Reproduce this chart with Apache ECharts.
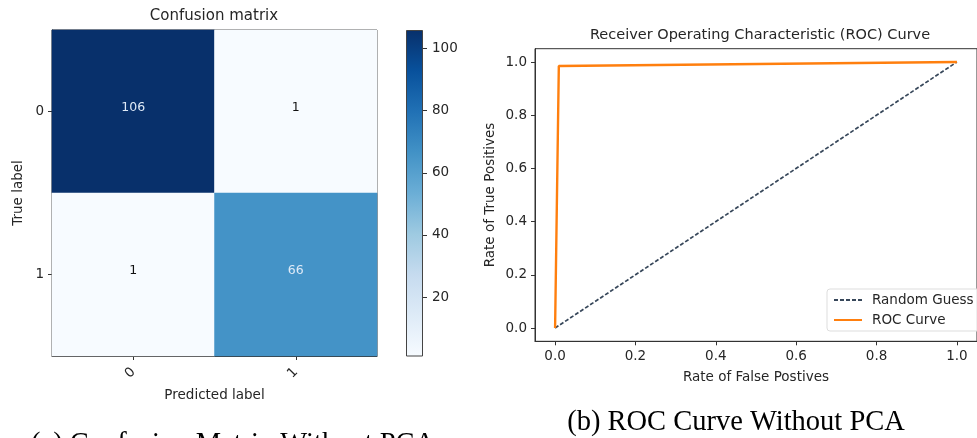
<!DOCTYPE html>
<html>
<head>
<meta charset="utf-8">
<script src="https://cdn.jsdelivr.net/npm/echarts@6/dist/echarts.min.js"></script>
<style>html,body{margin:0;padding:0;background:#fff}#c{width:977px;height:438px}</style>
</head>
<body>
<div id="c"></div>
<script>
// ---- data ----
const cmPredicted = ['0', '1'];
const cmTrue = ['0', '1'];
const cmRow0 = [106, 1];
const cmRow1 = [1, 66];
const cbRange = [1, 106];
const cbTicks = [20, 40, 60, 80, 100];
const rocFpr = [0, 0.0093, 1];
const rocTpr = [0, 0.985, 1];
const guessFpr = [0, 1];
const guessTpr = [0, 1];
const rocTicks = [0, 0.2, 0.4, 0.6, 0.8, 1.0];

const blues = ['#f7fbff','#deebf7','#c6dbef','#9ecae1','#6baed6','#4292c6','#2171b5','#08519c','#08306b'];
const FONT = 'DejaVu Sans';
const TXT = '#262626';
const FS = 13.5;
const cmRows = [cmRow0, cmRow1];
const thresh = cbRange[1] / 2;
const heatData = [];
cmRows.forEach((row, yi) => row.forEach((v, xi) => {
  heatData.push({ value: [xi, yi, v], label: { color: v > thresh ? '#dfeaf7' : '#111' } });
}));
const rocData = rocFpr.map((x, i) => [x, rocTpr[i]]);
const guessData = guessFpr.map((x, i) => [x, guessTpr[i]]);

const chart = echarts.init(document.getElementById('c'), null, { renderer: 'canvas' });
const axisLineStyle = { color: '#333', width: 1 };
chart.setOption({
  animation: false,
  textStyle: { fontFamily: FONT },
  grid: [
    { left: 52, top: 30, width: 325, height: 326, show: true, borderColor: '#333', borderWidth: 1, backgroundColor: 'transparent' },
    { left: 406, top: 30, width: 17, height: 326, show: false },
    { left: 535, top: 48.7, width: 452.6, height: 292.6, show: true, borderColor: '#333', borderWidth: 1, backgroundColor: 'transparent' }
  ],
  visualMap: {
    show: false, type: 'continuous', min: cbRange[0], max: cbRange[1], seriesIndex: 0,
    inRange: { color: blues }
  },
  xAxis: [
    { gridIndex: 0, type: 'category', data: cmPredicted, name: 'Predicted label', nameLocation: 'middle', nameGap: 32,
      nameTextStyle: { fontSize: FS, color: TXT, fontFamily: FONT },
      axisLine: { show: true, lineStyle: axisLineStyle }, axisTick: { show: true, alignWithLabel: true, length: 4, lineStyle: axisLineStyle },
      axisLabel: { rotate: 45, margin: 14, fontSize: FS, color: TXT, fontFamily: FONT }, splitLine: { show: false } },
    { gridIndex: 1, type: 'category', data: ['cb'], show: false },
    { gridIndex: 2, type: 'value', min: -0.05, max: 1.05, name: 'Rate of False Postives', nameLocation: 'middle', nameGap: 29,
      nameTextStyle: { fontSize: FS, color: TXT, fontFamily: FONT },
      axisLine: { show: true, onZero: false, lineStyle: axisLineStyle },
      axisTick: { show: true, length: 4, customValues: rocTicks, lineStyle: axisLineStyle },
      axisLabel: { customValues: rocTicks, formatter: v => v.toFixed(1), margin: 8, fontSize: FS, color: TXT, fontFamily: FONT },
      splitLine: { show: false } }
  ],
  yAxis: [
    { gridIndex: 0, type: 'category', data: cmTrue, inverse: true, name: 'True label', nameLocation: 'middle', nameGap: 27,
      nameTextStyle: { fontSize: FS, color: TXT, fontFamily: FONT },
      axisLine: { show: true, lineStyle: axisLineStyle }, axisTick: { show: true, alignWithLabel: true, length: 4, lineStyle: axisLineStyle },
      axisLabel: { margin: 8, fontSize: FS, color: TXT, fontFamily: FONT }, splitLine: { show: false } },
    { gridIndex: 1, type: 'value', min: cbRange[0], max: cbRange[1], position: 'right',
      axisLine: { show: false },
      axisTick: { show: true, length: 4, customValues: cbTicks, lineStyle: axisLineStyle },
      axisLabel: { customValues: cbTicks, margin: 9, fontSize: FS, color: TXT, fontFamily: FONT },
      splitLine: { show: false } },
    { gridIndex: 2, type: 'value', min: -0.05, max: 1.05, name: 'Rate of True Positives', nameLocation: 'middle', nameGap: 38,
      nameTextStyle: { fontSize: FS, color: TXT, fontFamily: FONT },
      axisLine: { show: true, onZero: false, lineStyle: axisLineStyle },
      axisTick: { show: true, length: 4, customValues: rocTicks, lineStyle: axisLineStyle },
      axisLabel: { customValues: rocTicks, formatter: v => v.toFixed(1), margin: 8, fontSize: FS, color: TXT, fontFamily: FONT },
      splitLine: { show: false } }
  ],
  legend: {
    left: 827, top: 289, orient: 'vertical', itemGap: 6, itemWidth: 28, itemHeight: 14,
    padding: [4, 40, 4, 6], borderColor: '#ddd', borderWidth: 1, borderRadius: 3, backgroundColor: 'rgba(255,255,255,0.85)',
    itemStyle: { opacity: 0 },
    textStyle: { fontSize: FS, color: TXT, fontFamily: FONT, padding: [0, 0, 0, 5] },
    data: ['Random Guess', 'ROC Curve']
  },
  series: [
    { type: 'heatmap', xAxisIndex: 0, yAxisIndex: 0, data: heatData,
      label: { show: true, fontSize: 12.5, fontFamily: FONT, offset: [0, -4], formatter: p => String(p.value[2]) },
      itemStyle: { borderWidth: 0 }, emphasis: { disabled: true } },
    { type: 'bar', xAxisIndex: 1, yAxisIndex: 1, data: [cbRange[1]], barWidth: '100%', silent: true,
      itemStyle: { borderColor: '#444', borderWidth: 1,
        color: new echarts.graphic.LinearGradient(0, 1, 0, 0, blues.map((c, i) => ({ offset: i / (blues.length - 1), color: c }))) } },
    { type: 'line', name: 'Random Guess', xAxisIndex: 2, yAxisIndex: 2, data: guessData, symbol: 'none', showSymbol: false,
      lineStyle: { color: '#37475a', width: 1.7, type: [4, 2] }, itemStyle: { color: '#37475a' }, z: 3 },
    { type: 'line', name: 'ROC Curve', xAxisIndex: 2, yAxisIndex: 2, data: rocData, symbol: 'none', showSymbol: false,
      lineStyle: { color: '#ff7f0e', width: 2.4 }, itemStyle: { color: '#ff7f0e' }, z: 4 }
  ],
  graphic: [
    { type: 'text', x: 214, y: 16, style: { text: 'Confusion matrix', font: '15px "DejaVu Sans"', fill: TXT, textAlign: 'center', textVerticalAlign: 'middle' } },
    { type: 'text', x: 760, y: 35, style: { text: 'Receiver Operating Characteristic (ROC) Curve', font: '14.5px "DejaVu Sans"', fill: TXT, textAlign: 'center', textVerticalAlign: 'middle' } },
    { type: 'text', x: 31, y: 445, style: { text: '(a) Confusion Matrix Without PCA', font: '28.5px "Liberation Serif"', fill: '#000', textAlign: 'left', textVerticalAlign: 'middle' } },
    { type: 'text', x: 736, y: 423, style: { text: '(b) ROC Curve Without PCA', font: '28.5px "Liberation Serif"', fill: '#000', textAlign: 'center', textVerticalAlign: 'middle' } }
  ]
});
</script>
</body>
</html>
